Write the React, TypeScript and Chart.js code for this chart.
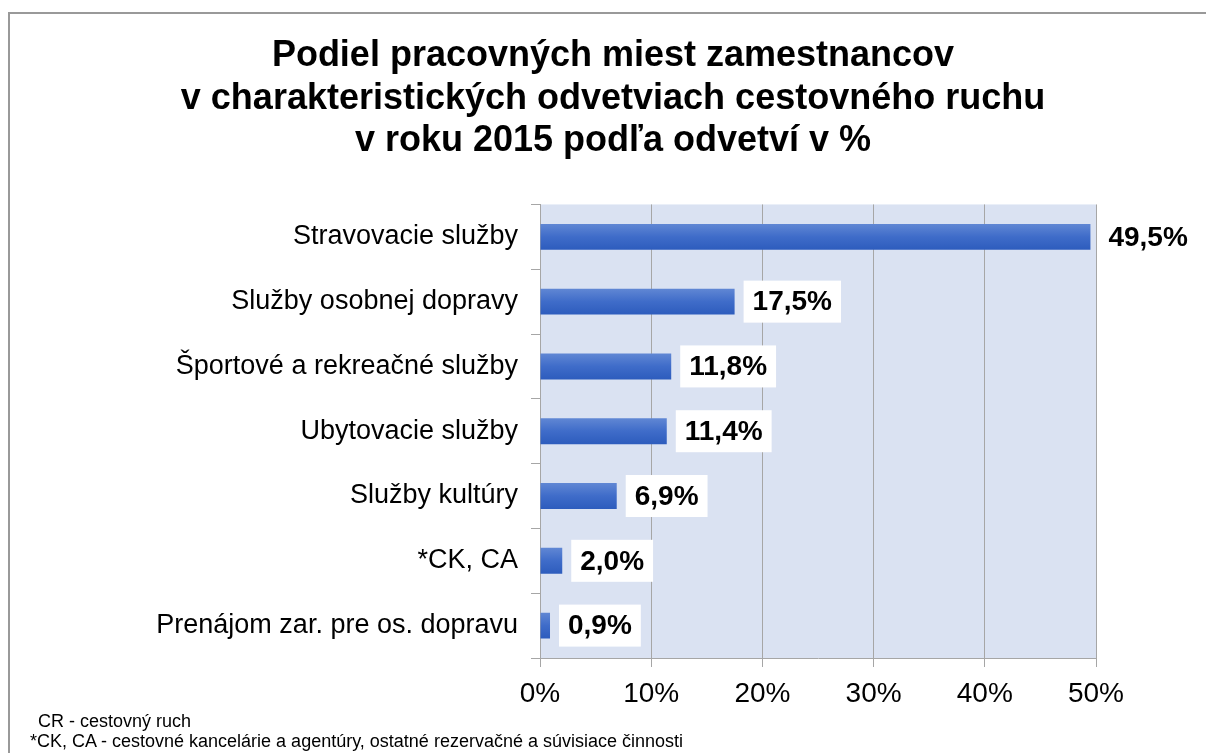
import { useEffect, useRef } from "react";
import { Chart, registerables } from "chart.js";

Chart.register(...registerables);

const titleLines = [
  "Podiel pracovných miest zamestnancov",
  "v charakteristických odvetviach cestovného ruchu",
  "v roku 2015 podľa odvetví v %",
];

const categories = [
  "Stravovacie služby",
  "Služby osobnej dopravy",
  "Športové a rekreačné služby",
  "Ubytovacie služby",
  "Služby kultúry",
  "*CK, CA",
  "Prenájom zar. pre os. dopravu",
];

const values = [49.5, 17.5, 11.8, 11.4, 6.9, 2.0, 0.9];

const xMin = 0;
const xMax = 50;
const xStep = 10;

const footnotes = [
  "CR - cestovný ruch",
  "*CK, CA - cestovné kancelárie a agentúry, ostatné rezervačné a súvisiace činnosti",
];

const FONT = "'Liberation Sans', Arial, sans-serif";

const fmt = (v: number) => v.toFixed(1).replace(".", ",") + "%";

const plotBg = {
  id: "plotBg",
  beforeDraw(chart: any) {
    const { ctx, chartArea } = chart;
    ctx.save();
    ctx.fillStyle = "#DAE2F2";
    ctx.fillRect(chartArea.left, chartArea.top, chartArea.right - chartArea.left, chartArea.bottom - chartArea.top);
    ctx.restore();
  },
};

const valueLabels = {
  id: "valueLabels",
  afterDatasetsDraw(chart: any) {
    const { ctx } = chart;
    const meta = chart.getDatasetMeta(0);
    ctx.save();
    ctx.font = `bold 28px ${FONT}`;
    ctx.textBaseline = "middle";
    ctx.textAlign = "left";
    meta.data.forEach((bar: any, i: number) => {
      const text = fmt(values[i]);
      const w = ctx.measureText(text).width;
      const bx = bar.x + 9;
      const h = 42;
      const pad = 9;
      ctx.fillStyle = "#ffffff";
      ctx.fillRect(bx, bar.y - h / 2, w + pad * 2, h);
      ctx.fillStyle = "#000000";
      ctx.fillText(text, bx + pad, bar.y + 1);
    });
    ctx.restore();
  },
};

export default function App() {
  const ref = useRef<HTMLCanvasElement | null>(null);

  useEffect(() => {
    if (!ref.current) return;
    const chart = new Chart(ref.current, {
      type: "bar",
      data: {
        labels: categories,
        datasets: [
          {
            data: values,
            barPercentage: 0.4,
            categoryPercentage: 1,
            borderWidth: 0,
            backgroundColor: (c: any) => {
              const ch = c.chart;
              const ys = ch.scales && ch.scales.y;
              if (!ys || c.dataIndex == null || !ys.height) return "#3d69c7";
              const center = ys.getPixelForValue(c.dataIndex);
              const half = (ys.height / categories.length) * 0.4 / 2;
              const g = ch.ctx.createLinearGradient(0, center - half, 0, center + half);
              g.addColorStop(0, "#6087d4");
              g.addColorStop(0.5, "#3f6cc9");
              g.addColorStop(1, "#2d5cbd");
              return g;
            },
          },
        ],
      },
      options: {
        indexAxis: "y",
        responsive: false,
        animation: false,
        layout: { padding: { left: 20, right: 0, top: 0, bottom: 0 } },
        plugins: {
          legend: { display: false },
          tooltip: { enabled: false },
          title: {
            display: true,
            text: titleLines,
            color: "#000000",
            font: { family: FONT, size: 36, weight: "bold", lineHeight: 1.18 },
            padding: { top: 35, bottom: 42 },
          },
        },
        scales: {
          x: {
            type: "linear",
            min: xMin,
            max: xMax,
            ticks: {
              stepSize: xStep,
              callback: (v: any) => `${v}%`,
              color: "#000000",
              font: { family: FONT, size: 28 },
              padding: 10,
            },
            grid: {
              color: "#A6A6A6",
              lineWidth: 1,
              tickLength: 9,
              tickColor: "#A6A6A6",
            },
            border: { display: true, color: "#A6A6A6" },
            afterFit: (s: any) => {
              s.height = 95;
            },
          },
          y: {
            type: "category",
            ticks: {
              color: "#000000",
              font: { family: FONT, size: 27 },
              padding: 13,
            },
            grid: {
              offset: true,
              drawOnChartArea: false,
              tickLength: 9,
              color: "#A6A6A6",
            },
            border: { display: true, color: "#A6A6A6" },
            afterFit: (s: any) => {
              s.width = 520;
            },
          },
          y2: {
            type: "linear",
            position: "right",
            display: true,
            grid: { display: false, drawTicks: false },
            ticks: { display: false },
            border: { display: false },
            afterFit: (s: any) => {
              s.width = 110;
            },
          },
        },
      } as any,
      plugins: [plotBg, valueLabels],
    });
    return () => chart.destroy();
  }, []);

  return (
    <div style={{ position: "fixed", inset: 0, overflow: "hidden", background: "#ffffff" }}>
      <div
        style={{
          position: "absolute",
          left: 8,
          top: 12,
          width: 1400,
          height: 1000,
          border: "2px solid #999999",
        }}
      />
      <canvas
        ref={ref}
        width={1206}
        height={753}
        style={{ position: "absolute", left: 0, top: 0, display: "block" }}
      />
      <div
        style={{
          position: "absolute",
          left: 30,
          top: 711,
          fontFamily: "'Liberation Sans Narrow', 'Arial Narrow', 'Liberation Sans', sans-serif",
          fontSize: 18,
          lineHeight: "20px",
          color: "#000000",
          whiteSpace: "nowrap",
        }}
      >
        <div style={{ paddingLeft: 8 }}>{footnotes[0]}</div>
        <div>{footnotes[1]}</div>
      </div>
    </div>
  );
}
